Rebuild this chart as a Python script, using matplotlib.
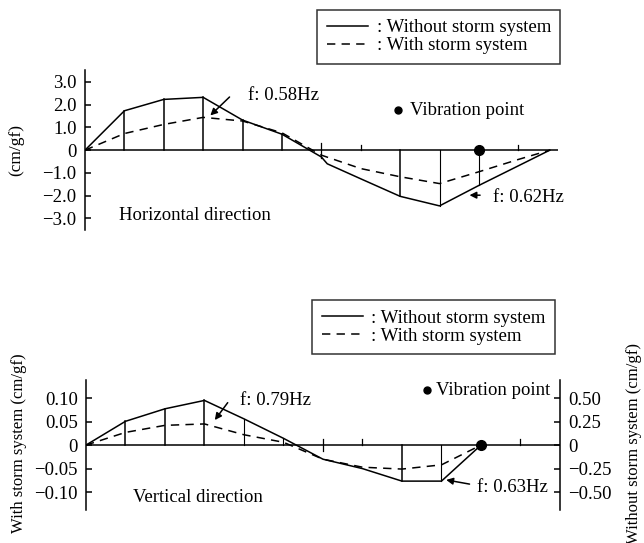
import matplotlib
matplotlib.use("Agg")
import matplotlib.pyplot as plt
from matplotlib.lines import Line2D

plt.rcParams["font.family"] = ["Liberation Serif", "DejaVu Serif"]
plt.rcParams["lines.scale_dashes"] = False

# --- dane: postac drgan, kierunek poziomy (cm/gf) ---
top_solid_x = [0, 1, 2, 3, 4, 5, 6, 6.15, 7, 8, 9, 10, 11, 11.8]
top_solid_y = [0, 1.73, 2.23, 2.32, 1.32, 0.70, -0.30, -0.60, -1.26, -2.03, -2.45, -1.55, -0.69, 0]
top_dash_x = [0, 1, 2, 3, 4, 5, 6, 7, 8, 9, 10, 11, 11.8]
top_dash_y = [0, 0.73, 1.13, 1.44, 1.28, 0.76, -0.22, -0.81, -1.17, -1.47, -0.95, -0.41, 0]
top_stems = [1, 2, 3, 4, 5, 8, 9, 10]
top_ticks = [7, 11]
top_cross = [6]
top_yticks = [3.0, 2.0, 1.0, 0, -1.0, -2.0, -3.0]
top_ylabels = ["3.0", "2.0", "1.0", "0", "\u22121.0", "\u22122.0", "\u22123.0"]

# --- dane: kierunek pionowy (bez systemu -> prawa os, z systemem -> lewa os) ---
bot_solid_x = [0, 1, 2, 3, 4, 5, 6, 7, 8, 9, 10]
bot_solid_y = [0, 0.253, 0.386, 0.475, 0.279, 0.072, -0.15, -0.25, -0.383, -0.383, 0]
bot_dash_x = [0, 1, 2, 3, 4, 5, 6, 7, 8, 9, 10]
bot_dash_y = [0, 0.027, 0.042, 0.045, 0.022, 0.006, -0.030, -0.047, -0.051, -0.042, 0]
bot_stems = [1, 2, 3, 4, 5, 8, 9]
bot_ticks = [7, 11]
bot_cross = [6]
bot_yticks = [0.10, 0.05, 0, -0.05, -0.10]
bot_ylabels = ["0.10", "0.05", "0", "\u22120.05", "\u22120.10"]
bot_rticks = [0.50, 0.25, 0, -0.25, -0.50]
bot_rlabels = ["0.50", "0.25", "0", "\u22120.25", "\u22120.50"]

vib_x = 10
FS = 13.5
LW = 1.1
DASH = (6, 4.5)


def interp(xs, ys, x):
    for i in range(len(xs) - 1):
        if xs[i] <= x <= xs[i + 1]:
            t = (x - xs[i]) / (xs[i + 1] - xs[i])
            return ys[i] + t * (ys[i + 1] - ys[i])
    return 0


def style_axis(ax, ylim, yticks, ylabels):
    ax.set_xlim(0, 12)
    ax.set_ylim(*ylim)
    for s in ["top", "right", "bottom"]:
        ax.spines[s].set_visible(False)
    ax.spines["left"].set_linewidth(LW)
    ax.set_xticks([])
    ax.set_yticks(yticks)
    ax.set_yticklabels(ylabels, fontsize=FS)
    ax.tick_params(axis="y", direction="in", length=4, width=LW, pad=6)
    ax.axhline(0, color="black", lw=LW)


def add_legend(fig, anchor):
    handles = [Line2D([], [], color="black", lw=LW),
               Line2D([], [], color="black", lw=LW, dashes=DASH)]
    leg = fig.legend(handles, [": Without storm system", ": With storm system"],
                     loc="upper right", bbox_to_anchor=anchor, fontsize=FS,
                     frameon=True, fancybox=False, handlelength=2.2,
                     handletextpad=0.45, labelspacing=0.05, borderpad=0.5,
                     borderaxespad=0)
    leg.get_frame().set_edgecolor("black")
    leg.get_frame().set_linewidth(LW)


fig = plt.figure(figsize=(6.44, 5.43), dpi=100)

# ---------------- kierunek poziomy ----------------
ax1 = fig.add_axes([0.132, 0.576, 0.734, 0.295])
style_axis(ax1, (-3.52, 3.52), top_yticks, top_ylabels)
ax1.plot(top_solid_x, top_solid_y, color="black", lw=LW)
ax1.plot(top_dash_x, top_dash_y, color="black", lw=LW, dashes=DASH)
for x in top_stems:
    ax1.plot([x, x], [0, interp(top_solid_x, top_solid_y, x)], color="black",
             lw=LW if x not in (9, 10) else 0.8)
for x in top_ticks:
    ax1.plot([x, x], [0, 0.22], color="black", lw=0.9)
for x in top_cross:
    ax1.plot([x, x], [0.3, -0.35], color="black", lw=0.9)
ax1.plot([vib_x], [0], "o", color="black", ms=7)

ax1.annotate("", xy=(3.13, 1.44), xytext=(3.72, 2.42),
             arrowprops=dict(arrowstyle="-|>", color="black", lw=LW, mutation_scale=10))
ax1.text(4.14, 2.42, "f: 0.58Hz", fontsize=FS, va="center", ha="left")
ax1.annotate("", xy=(9.69, -1.98), xytext=(10.1, -1.98),
             arrowprops=dict(arrowstyle="-|>", color="black", lw=LW, mutation_scale=10))
ax1.text(10.35, -2.06, "f: 0.62Hz", fontsize=FS, va="center", ha="left")
ax1.plot([7.95], [1.76], "o", color="black", ms=5)
ax1.text(8.25, 1.76, "Vibration point", fontsize=FS, va="center", ha="left")
ax1.text(0.87, -2.86, "Horizontal direction", fontsize=FS, va="center", ha="left")

fig.text(0.026, 0.724, "(cm/gf)", rotation=90, fontsize=12.5, ha="center", va="center")
add_legend(fig, (0.870, 0.982))

# ---------------- kierunek pionowy ----------------
ax2 = fig.add_axes([0.1335, 0.0608, 0.736, 0.239])
lim = 0.138
style_axis(ax2, (-lim, lim), bot_yticks, bot_ylabels)
ax3 = ax2.twinx()
ax3.set_ylim(-5 * lim, 5 * lim)
for s in ["top", "left", "bottom"]:
    ax3.spines[s].set_visible(False)
ax3.spines["right"].set_linewidth(LW)
ax3.set_yticks(bot_rticks)
ax3.set_yticklabels(bot_rlabels, fontsize=FS)
ax3.tick_params(axis="y", direction="in", length=4, width=LW, pad=6)

ax3.plot(bot_solid_x, bot_solid_y, color="black", lw=LW)
ax2.plot(bot_dash_x, bot_dash_y, color="black", lw=LW, dashes=DASH)
for x in bot_stems:
    ax3.plot([x, x], [0, interp(bot_solid_x, bot_solid_y, x)], color="black",
             lw=LW if x not in (4, 5, 9) else 0.8)
for x in bot_ticks:
    ax2.plot([x, x], [0, 0.012], color="black", lw=0.9)
for x in bot_cross:
    ax2.plot([x, x], [0.012, -0.012], color="black", lw=0.9)
ax2.plot([vib_x], [0], "o", color="black", ms=7)

ax2.annotate("", xy=(3.22, 0.0485), xytext=(3.63, 0.095),
             arrowprops=dict(arrowstyle="-|>", color="black", lw=LW, mutation_scale=10))
ax2.text(3.9, 0.095, "f: 0.79Hz", fontsize=FS, va="center", ha="left")
ax2.annotate("", xy=(9.05, -0.073), xytext=(9.78, -0.084),
             arrowprops=dict(arrowstyle="-|>", color="black", lw=LW, mutation_scale=10))
ax2.text(9.89, -0.091, "f: 0.63Hz", fontsize=FS, va="center", ha="left")
ax2.plot([8.63], [0.1165], "o", color="black", ms=5)
ax2.text(8.86, 0.1165, "Vibration point", fontsize=FS, va="center", ha="left")
ax2.text(1.19, -0.112, "Vertical direction", fontsize=FS, va="center", ha="left")

fig.text(0.029, 0.184, "With storm system (cm/gf)", rotation=90, fontsize=12,
         ha="center", va="center")
fig.text(0.984, 0.184, "Without storm system (cm/gf)", rotation=90, fontsize=12,
         ha="center", va="center")
add_legend(fig, (0.862, 0.4475))

fig.savefig("out.png", dpi=100)
